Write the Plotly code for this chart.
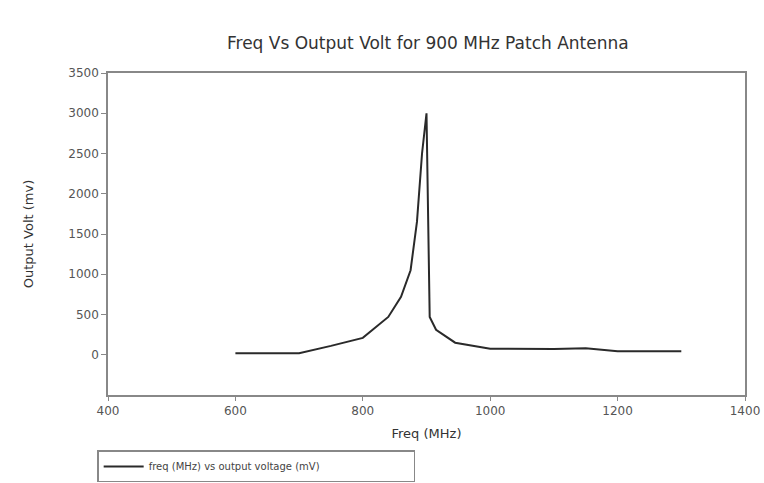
import plotly.graph_objects as go

freq_mhz = [600, 700, 750, 800, 840, 860, 875, 885, 893, 900, 905, 915, 945, 1000, 1100, 1150, 1200, 1300]
output_mv = [20, 20, 110, 210, 470, 720, 1050, 1650, 2500, 3000, 470, 310, 150, 75, 70, 80, 45, 45]

x_ticks = [400, 600, 800, 1000, 1200, 1400]
y_ticks = [0, 500, 1000, 1500, 2000, 2500, 3000, 3500]

font_family = "DejaVu Sans"

fig = go.Figure()
fig.add_trace(go.Scatter(
    x=freq_mhz, y=output_mv, mode="lines",
    line=dict(color="#2a2a2a", width=2),
    name="freq (MHz) vs output voltage (mV)",
))

fig.update_layout(
    width=764, height=483,
    margin=dict(l=108, r=19, t=73, b=88, autoexpand=False),
    paper_bgcolor="white", plot_bgcolor="white",
    font=dict(family=font_family, color="#555555", size=11),
    title=dict(text="Freq Vs Output Volt for 900 MHz Patch Antenna",
               x=0.56, xanchor="center", y=0.91, yanchor="middle",
               font=dict(size=17, color="#333333", family=font_family)),
    showlegend=True,
    legend=dict(x=-0.017, y=-0.172, xanchor="left", yanchor="top",
                orientation="h", entrywidth=260, entrywidthmode="pixels",
                bordercolor="#888888", borderwidth=1.5,
                font=dict(size=10, color="#444444"),
                bgcolor="white", itemwidth=40),
)
fig.update_xaxes(
    range=[400, 1400], tickvals=x_ticks,
    ticktext=[str(v) for v in x_ticks],
    showgrid=False, zeroline=False,
    showline=True, linecolor="#888888", linewidth=1.5, mirror=True,
    ticks="outside", ticklen=4, tickcolor="#888888",
    tickfont=dict(size=12),
    title=dict(text="Freq (MHz)", font=dict(size=13, color="#333333"), standoff=12),
)
fig.update_yaxes(
    range=[-500, 3500], tickvals=y_ticks,
    showgrid=False, zeroline=False,
    showline=True, linecolor="#888888", linewidth=1.5, mirror=True,
    ticks="outside", ticklen=5, tickcolor="#888888",
    tickfont=dict(size=12),
    title=dict(text="Output Volt (mv)", font=dict(size=13, color="#333333"), standoff=32),
)

fig.write_html("out.html")
